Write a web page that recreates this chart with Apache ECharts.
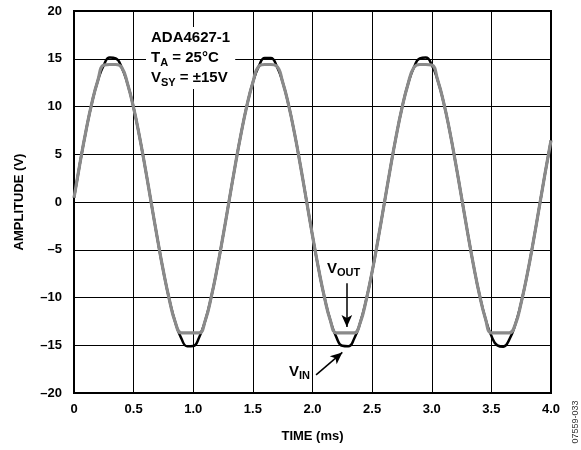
<!DOCTYPE html>
<html>
<head>
<meta charset="utf-8">
<script src="https://cdn.jsdelivr.net/npm/echarts@6/dist/echarts.min.js"></script>
<style>
html,body{margin:0;padding:0;background:#fff;}
#chart{width:581px;height:450px;}
</style>
</head>
<body>
<div id="chart"></div>
<script>
// time (ms), sampled every 0.05 ms
var time = [];
for (var i = 0; i <= 80; i++) time.push(+(i * 0.05).toFixed(2));

// input signal V_IN (V)
var vin = [0.44, 4.05, 7.42, 10.37, 12.72, 14.34, 15.13, 15.04, 14.09, 12.33, 9.85, 6.81, 3.37, -0.26, -3.87, -7.27, -10.24, -12.62, -14.28, -15.11, -15.07, -14.16, -12.44, -9.99, -6.97, -3.55,
  0.07, 3.70, 7.10, 10.10, 12.52, 14.21, 15.09, 15.09, 14.23, 12.54, 10.13, 7.14, 3.73, 0.11, -3.52, -6.94, -9.97, -12.41, -14.15, -15.06, -15.11, -14.29, -12.64, -10.27, -7.30, -3.91,
  -0.29, 3.34, 6.78, 9.83, 12.31, 14.08, 15.04, 15.13, 14.35, 12.74, 10.40, 7.46, 4.08, 0.48, -3.16, -6.61, -9.69, -12.20, -14.01, -15.01, -15.15, -14.41, -12.84, -10.53, -7.62, -4.26,
  -0.66, 2.98, 6.45];

// output signal V_OUT (V) (clipped near the rails)
var vout = [0.44, 4.05, 7.42, 10.37, 12.72, 14.34, 14.4, 14.4, 14.09, 12.33, 9.85, 6.81, 3.37, -0.26, -3.87, -7.27, -10.24, -12.62, -13.7, -13.7, -13.7, -13.7, -12.44, -9.99, -6.97, -3.55,
  0.07, 3.70, 7.10, 10.10, 12.52, 14.21, 14.4, 14.4, 14.23, 12.54, 10.13, 7.14, 3.73, 0.11, -3.52, -6.94, -9.97, -12.41, -13.7, -13.7, -13.7, -13.7, -12.64, -10.27, -7.30, -3.91,
  -0.29, 3.34, 6.78, 9.83, 12.31, 14.08, 14.4, 14.4, 14.35, 12.74, 10.40, 7.46, 4.08, 0.48, -3.16, -6.61, -9.69, -12.20, -13.7, -13.7, -13.7, -13.7, -12.84, -10.53, -7.62, -4.26,
  -0.66, 2.98, 6.45];

var xTickLabels = ['0', '0.5', '1.0', '1.5', '2.0', '2.5', '3.0', '3.5', '4.0'];
var yTickLabels = ['–20', '–15', '–10', '–5', '0', '5', '10', '15', '20'];

// annotation arrows in data coordinates
var voutArrow = [[2.288, -8.5], [2.288, -13.1]];
var vinArrow = [[2.03, -18.1], [2.25, -15.75]];

var FONT = '"Liberation Sans", Arial, sans-serif';

function pairs(xs, ys) { return xs.map(function (x, i) { return [x, ys[i]]; }); }

var richStyle = {
  m: { fontFamily: FONT, fontSize: 15, fontWeight: 'bold', fill: '#000', lineHeight: 20, verticalAlign: 'middle' },
  s: { fontFamily: FONT, fontSize: 11, fontWeight: 'bold', fill: '#000', lineHeight: 12, verticalAlign: 'bottom' }
};

var chart = echarts.init(document.getElementById('chart'), null, { renderer: 'canvas' });
chart.setOption({
  animation: false,
  backgroundColor: '#fff',
  textStyle: { fontFamily: FONT },
  grid: { left: 74, right: 30, top: 11, bottom: 57, show: true, borderColor: '#000', borderWidth: 2, backgroundColor: 'transparent' },
  xAxis: {
    type: 'value', min: 0, max: 4, interval: 0.5,
    name: 'TIME (ms)', nameLocation: 'middle', nameGap: 37,
    nameTextStyle: { fontFamily: FONT, fontWeight: 'bold', fontSize: 13, color: '#000' },
    axisLine: { show: true, onZero: false, lineStyle: { color: '#000', width: 2 } },
    axisTick: { show: false },
    splitLine: { show: true, lineStyle: { color: '#000', width: 1 } },
    axisLabel: {
      fontFamily: FONT, fontWeight: 'bold', fontSize: 13, color: '#000', margin: 10,
      formatter: function (v) { return xTickLabels[Math.round(v / 0.5)]; }
    }
  },
  yAxis: {
    type: 'value', min: -20, max: 20, interval: 5,
    name: 'AMPLITUDE (V)', nameLocation: 'middle', nameGap: 48, nameRotate: 90,
    nameTextStyle: { fontFamily: FONT, fontWeight: 'bold', fontSize: 13, color: '#000' },
    axisLine: { show: true, onZero: false, lineStyle: { color: '#000', width: 2 } },
    axisTick: { show: false },
    splitLine: { show: true, lineStyle: { color: '#000', width: 1 } },
    axisLabel: {
      fontFamily: FONT, fontWeight: 'bold', fontSize: 13, color: '#000', margin: 12,
      formatter: function (v) { return yTickLabels[Math.round((v + 20) / 5)]; }
    }
  },
  series: [
    {
      name: 'VIN', type: 'line', data: pairs(time, vin), smooth: 0.5, showSymbol: false,
      lineStyle: { color: '#000', width: 2.5 }, z: 3,
      markLine: {
        silent: true, symbol: ['none', 'arrow'], symbolSize: [8, 12],
        label: { show: false },
        lineStyle: { color: '#000', width: 1.5, type: 'solid' },
        data: [
          [{ coord: voutArrow[0] }, { coord: voutArrow[1] }],
          [{ coord: vinArrow[0] }, { coord: vinArrow[1] }]
        ]
      }
    },
    {
      name: 'VOUT', type: 'line', data: pairs(time, vout), smooth: 0.5, showSymbol: false,
      lineStyle: { color: '#8a8a8a', width: 3.2 }, z: 4
    }
  ],
  graphic: [
    {
      type: 'text', left: 146, top: 27, z: 100,
      style: {
        text: '{m|ADA4627-1}\n{m|T}{s|A}{m| = 25°C}\n{m|V}{s|SY}{m| = ±15V}',
        backgroundColor: '#fff', padding: [1, 5, 1, 5],
        rich: richStyle
      }
    },
    {
      type: 'text', left: 327, top: 261, z: 100,
      style: { text: '{m|V}{s|OUT}', rich: richStyle }
    },
    {
      type: 'text', left: 289, top: 364, z: 100,
      style: { text: '{m|V}{s|IN}', rich: richStyle }
    },
    {
      type: 'text', x: 576, y: 422, rotation: Math.PI / 2, z: 100,
      style: { text: '07559-033', fontFamily: FONT, fontSize: 9, fill: '#333', align: 'center', verticalAlign: 'middle' }
    }
  ]
});
</script>
</body>
</html>
